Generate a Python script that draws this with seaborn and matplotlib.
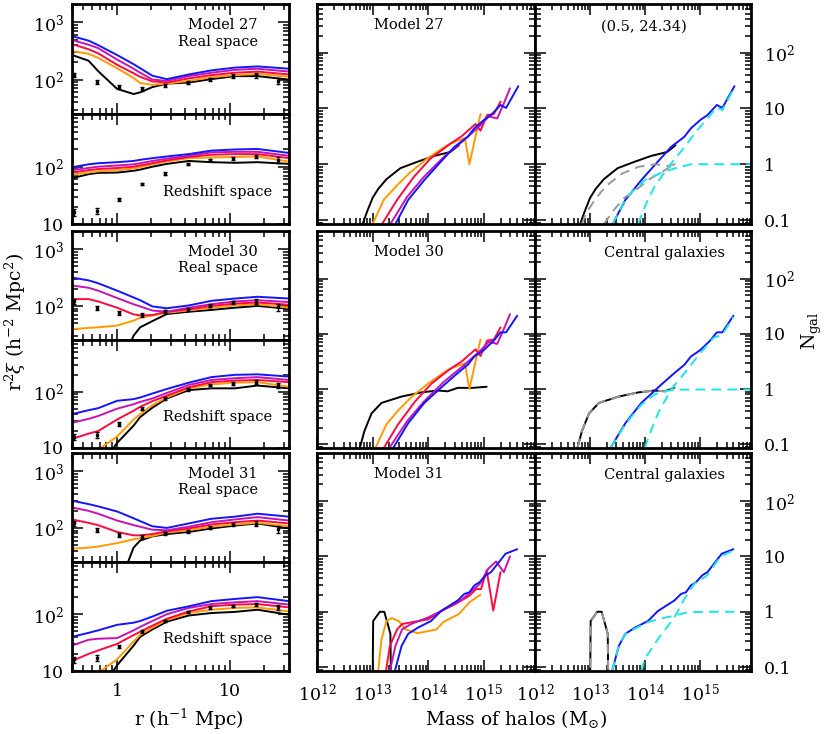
import numpy as np
import pandas as pd
import matplotlib
matplotlib.use("Agg")
import matplotlib.pyplot as plt
import seaborn as sns
from matplotlib.ticker import FixedLocator, FuncFormatter, NullFormatter

sns.set_style("ticks", {"axes.edgecolor": "black", "xtick.color": "black",
                        "ytick.color": "black", "text.color": "black"})
plt.rcParams["font.family"] = ["DejaVu Serif"]
plt.rcParams["mathtext.fontset"] = "dejavuserif"

# ---- left column: r^2 xi(r) -------------------------------------------
r_grid = [0.4, 0.56, 0.68, 1.0, 1.4, 1.6, 2.05, 2.75, 4.3, 6.8, 11, 17.4, 33]
nan = np.nan

xi27_real = {
    "black":   [269, 214, 141, 69, 56, 60, 74, 85, 89, 102, 115, 115, 100],
    "orange":  [316, 282, 240, 158, 107, 87, 81, 85, 95, 110, 120, 126, 112],
    "red":     [417, 339, 288, 182, 129, 112, 93, 89, 105, 120, 132, 138, 123],
    "magenta": [490, 407, 355, 224, 155, 132, 100, 95, 115, 132, 148, 155, 138],
    "blue":    [575, 479, 400, 269, 186, 158, 117, 102, 123, 145, 162, 170, 155],
}
xi27_red = {
    "black":   [63, 74, 78, 79, 85, 89, 100, 112, 126, 120, 117, 120, 112],
    "orange":  [72, 79, 83, 87, 93, 98, 110, 123, 141, 145, 148, 151, 123],
    "red":     [79, 87, 91, 95, 100, 105, 115, 129, 148, 162, 166, 166, 141],
    "magenta": [87, 95, 100, 105, 110, 115, 126, 138, 155, 178, 182, 182, 155],
    "blue":    [98, 110, 115, 120, 126, 132, 141, 151, 166, 191, 200, 204, 174],
}
xi30_real = {
    "black":   [nan, nan, nan, 6, 30, 42, 54, 72, 79, 85, 93, 100, 89],
    "orange":  [39, 41, 42, 45, 55, 62, 68, 76, 83, 93, 102, 107, 93],
    "red":     [132, 132, 120, 93, 71, 68, 69, 79, 87, 100, 110, 115, 105],
    "magenta": [229, 209, 186, 138, 107, 98, 83, 79, 93, 107, 120, 126, 117],
    "blue":    [316, 282, 251, 186, 141, 126, 98, 91, 102, 123, 135, 145, 135],
}
xi30_red = {
    "black":   [nan, nan, 4, 12.3, 25, 35.5, 52, 76, 107, 115, 115, 129, 115],
    "orange":  [nan, 6, 9.3, 16, 32, 40, 58, 79, 115, 135, 145, 148, 123],
    "red":     [14.5, 18, 20, 32, 46, 54, 68, 85, 120, 148, 158, 162, 148],
    "magenta": [28, 33, 37, 50, 60, 66, 76, 95, 132, 162, 174, 182, 162],
    "blue":    [40, 47, 51, 69, 74, 79, 93, 112, 145, 182, 200, 204, 186],
}
xi31_real = {
    "black":   [nan, nan, nan, 8, 45, 60, 71, 78, 85, 98, 110, 120, 98],
    "orange":  [43, 45, 47, 54, 63, 66, 72, 83, 91, 105, 115, 123, 107],
    "red":     [141, 123, 112, 85, 74, 74, 78, 87, 98, 115, 126, 135, 120],
    "magenta": [229, 200, 178, 135, 112, 105, 93, 91, 105, 126, 141, 155, 135],
    "blue":    [302, 263, 240, 195, 148, 132, 107, 100, 120, 145, 158, 178, 158],
}
xi31_red = {
    "black":   [nan, nan, 4, 12.6, 28, 40, 54, 74, 95, 105, 110, 120, 98],
    "orange":  [nan, 6, 9.3, 16, 33, 43, 58, 79, 105, 120, 129, 132, 112],
    "red":     [15, 20, 23, 30, 43, 49, 63, 83, 112, 138, 148, 151, 132],
    "magenta": [28, 35.5, 37, 38, 52, 60, 76, 100, 129, 151, 162, 170, 148],
    "blue":    [40, 47, 52, 65, 71, 76, 91, 115, 138, 170, 186, 200, 170],
}

r_obs = [0.42, 0.66, 1.05, 1.67, 2.65, 4.2, 6.65, 10.5, 16.7, 26.5]
xi_real_obs = [121, 91, 74, 69, 80, 88, 101, 115, 119, 95]
xi_real_err = [12, 7, 6, 6, 5, 5, 6, 8, 11, 12]
xi_red_obs = [16, 17, 27, 50, 76, 110, 132, 140, 150, 132]
xi_red_err = [2, 2, 2, 3, 4, 5, 7, 8, 10, 14]

# ---- middle / right columns: N(M), log10 mass ----------------------------
hod27 = {
    "black":   ([12.82, 12.9, 13.0, 13.1, 13.25, 13.5, 13.8, 14.1, 14.4, 14.55],
                [0.085, 0.141, 0.25, 0.36, 0.54, 0.85, 1.1, 1.4, 1.66, 2.19]),
    "orange":  ([13.0, 13.2, 13.44, 13.68, 13.98, 14.34, 14.52, 14.66, 14.74, 14.94],
                [0.085, 0.23, 0.42, 0.72, 1.26, 2.19, 2.63, 2.9, 1.0, 7.9]),
    "red":     ([13.17, 13.44, 13.74, 14.04, 14.4, 14.6, 14.85, 14.94, 15.06, 15.18, 15.3],
                [0.085, 0.23, 0.59, 1.26, 2.34, 3.16, 5.25, 3.98, 7.6, 7.9, 13.2]),
    "magenta": ([13.32, 13.62, 13.92, 14.28, 14.64, 14.94, 15.09, 15.24, 15.36, 15.47],
                [0.085, 0.26, 0.59, 1.35, 2.69, 5.0, 7.2, 6.6, 12.3, 22.9]),
    "blue":    ([13.41, 13.64, 13.93, 14.17, 14.47, 14.71, 14.83, 15.0, 15.13, 15.3, 15.4, 15.62],
                [0.085, 0.23, 0.52, 0.96, 2.04, 3.1, 4.4, 6.2, 7.6, 11.5, 10.2, 25]),
}
hod30 = {
    "black":   ([12.77, 12.85, 12.98, 13.16, 13.52, 13.88, 14.17, 14.35, 14.53, 14.8, 15.05],
                [0.085, 0.17, 0.36, 0.56, 0.73, 0.87, 0.94, 0.91, 1.05, 1.05, 1.1]),
    "orange":  ([13.05, 13.25, 13.47, 13.7, 14.0, 14.34, 14.52, 14.66, 14.74, 14.94],
                [0.085, 0.23, 0.42, 0.72, 1.26, 2.19, 2.63, 2.9, 1.0, 7.9]),
    "red":     ([13.2, 13.46, 13.76, 14.06, 14.4, 14.6, 14.85, 14.94, 15.06, 15.18, 15.3],
                [0.085, 0.23, 0.59, 1.26, 2.34, 3.16, 5.25, 3.98, 7.6, 7.9, 13.2]),
    "magenta": ([13.3, 13.62, 13.92, 14.28, 14.64, 14.94, 15.09, 15.24, 15.36, 15.47],
                [0.085, 0.26, 0.59, 1.35, 2.69, 5.0, 7.2, 6.6, 12.3, 22.9]),
    "blue":    ([13.37, 13.64, 13.93, 14.29, 14.53, 14.71, 14.83, 15.0, 15.18, 15.3, 15.4, 15.6],
                [0.085, 0.24, 0.56, 1.2, 1.95, 2.75, 3.9, 5.1, 7.6, 10.7, 10.7, 21.4]),
}
hod31 = {
    "black":   ([13.0, 13.01, 13.13, 13.21, 13.32, 13.33],
                [0.05, 0.68, 1.0, 1.0, 0.4, 0.05]),
    "orange":  ([13.1, 13.16, 13.25, 13.345, 13.47, 13.59, 13.81, 14.15, 14.27, 14.55, 14.74, 14.94],
                [0.085, 0.32, 0.68, 0.77, 0.68, 0.48, 0.41, 0.48, 0.65, 0.91, 1.48, 2.04]),
    "red":     ([13.24, 13.31, 13.44, 13.53, 13.75, 14.0, 14.24, 14.49, 14.74, 14.86, 14.95, 15.05, 15.17, 15.3],
                [0.085, 0.24, 0.48, 0.6, 0.66, 0.73, 1.04, 1.38, 1.95, 2.57, 2.57, 5.6, 1.05, 5.2]),
    "magenta": ([13.31, 13.41, 13.53, 13.69, 14.0, 14.24, 14.62, 14.93, 15.08, 15.22, 15.36, 15.47],
                [0.085, 0.24, 0.48, 0.6, 0.79, 1.04, 1.7, 3.2, 6.0, 8.1, 5.2, 10.0]),
    "blue":    ([13.4, 13.52, 13.64, 13.82, 14.05, 14.23, 14.53, 14.65, 14.74, 14.83, 14.92, 15.04, 15.13, 15.39, 15.6],
                [0.085, 0.24, 0.4, 0.52, 0.68, 1.03, 1.6, 2.1, 2.25, 3.0, 3.4, 4.6, 5.2, 11.2, 13.5]),
}

# black / dashed components drawn in the right column
black_right30 = ([12.77, 12.85, 12.98, 13.16, 13.52, 13.88, 14.17, 14.35, 14.53],
                 [0.085, 0.17, 0.36, 0.56, 0.73, 0.87, 0.94, 0.91, 1.05])
gray_cen27 = ([12.85, 12.92, 13.1, 13.28, 13.58, 13.88, 14.17, 14.41, 14.55],
              [0.085, 0.13, 0.24, 0.4, 0.68, 0.9, 1.0, 0.93, 1.0])
gray_sat27 = ([13.25, 13.45, 13.64, 13.76, 14.05, 14.25, 14.41, 14.5],
              [0.085, 0.16, 0.26, 0.3, 0.52, 0.68, 0.84, 1.0])
cyan_cen27 = ([13.41, 13.6, 13.73, 13.99, 14.29, 14.53, 14.83, 15.2, 15.9],
              [0.085, 0.2, 0.3, 0.52, 0.7, 0.84, 1.0, 1.0, 1.0])
cyan_sat27 = ([13.87, 14.02, 14.17, 14.32, 14.47, 14.71, 14.9, 15.13, 15.3, 15.4, 15.62],
              [0.085, 0.2, 0.4, 0.65, 1.03, 2.0, 3.6, 6.6, 10.5, 9.3, 24])
cyan_cen30 = ([13.37, 13.64, 13.93, 14.17, 14.47, 14.8, 15.9],
              [0.085, 0.23, 0.52, 0.8, 0.96, 0.98, 0.98])
cyan_sat30 = ([13.99, 14.1, 14.23, 14.47, 14.74, 15.0, 15.24, 15.4, 15.6],
              [0.085, 0.17, 0.36, 0.98, 2.1, 4.5, 8.5, 9.7, 20.4])
cyan_cen31 = ([13.4, 13.52, 13.64, 13.82, 14.05, 14.3, 14.53, 14.77, 15.2, 15.62],
              [0.085, 0.24, 0.4, 0.5, 0.65, 0.76, 0.85, 0.98, 1.0, 1.0])
cyan_sat31 = ([13.93, 13.99, 14.23, 14.53, 14.71, 14.89, 15.12, 15.36, 15.6],
              [0.085, 0.14, 0.32, 0.79, 1.7, 3.2, 4.5, 9.8, 12.9])

model_names = ["Model 27", "Model 30", "Model 31"]
right_titles = ["(0.5, 24.34)", "Central galaxies", "Central galaxies"]

COLORS = {"black": "black", "orange": "#ff9a00", "red": "#ff0a40",
          "magenta": "#c414b4", "blue": "#1414ff"}
GRAY = "#9a9a9a"
CYAN = "#1ee6e6"
DASH = (0, (5, 3.2))

W, H = 830, 734


def box(x0, y0, x1, y1):
    return [x0 / W, 1 - y1 / H, (x1 - x0) / W, (y1 - y0) / H]


def draw(ax, x, y, color, dashed=False, lw=1.4):
    d = pd.DataFrame({"x": x, "y": y}).dropna()
    kw = {"linestyle": DASH} if dashed else {}
    sns.lineplot(data=d, x="x", y="y", ax=ax, color=color, lw=lw,
                 sort=False, estimator=None, **kw)
    ax.set_xlabel("")
    ax.set_ylabel("")


def style(ax):
    ax.tick_params(which="both", direction="in", top=True, right=True,
                   width=1.1, labelsize=12.5, colors="black")
    ax.tick_params(which="major", length=8)
    ax.tick_params(which="minor", length=4)
    for s in ax.spines.values():
        s.set_linewidth(2)
        s.set_color("black")


def xi_fmt(v, pos):
    return {10: "10", 100: "$10^2$", 1000: "$10^3$"}.get(round(v), "")


def n_fmt(v, pos):
    return {0.1: "0.1", 1: "1", 10: "10", 100: "$10^2$"}.get(round(v, 1), "")


def m_fmt(v, pos):
    return "$10^{%d}$" % round(np.log10(v))


def lg(vals):
    return [10.0 ** v for v in vals]


fig = plt.figure(figsize=(W / 100, H / 100), dpi=100)

row_top = [4, 231, 453]
row_mid = [114, 340, 562]
row_bot = [224, 448, 671]
xi_sets = [(xi27_real, xi27_red), (xi30_real, xi30_red), (xi31_real, xi31_red)]
hod_sets = [hod27, hod30, hod31]
black_right = [hod27["black"], black_right30, hod31["black"]]
dash_sets = [
    [(gray_cen27, GRAY), (gray_sat27, GRAY), (cyan_cen27, CYAN), (cyan_sat27, CYAN)],
    [(black_right30, GRAY), (cyan_cen30, CYAN), (cyan_sat30, CYAN)],
    [(hod31["black"], GRAY), (cyan_cen31, CYAN), (cyan_sat31, CYAN)],
]
y_minor = [k * 10.0 ** e for e in range(0, 4) for k in range(2, 10)]
r_minor = [0.4, 0.5, 0.6, 0.7, 0.8, 0.9] + [k for k in range(2, 10)] + [20, 30]
n_minor = [k * 10.0 ** e for e in range(-2, 3) for k in range(2, 10)]
m_minor = [k * 10.0 ** e for e in range(12, 16) for k in range(2, 10)]

for i in range(3):
    real, red = xi_sets[i]
    ax_r = fig.add_axes(box(72, row_top[i], 289, row_mid[i]))
    ax_z = fig.add_axes(box(72, row_mid[i], 289, row_bot[i]))
    for ax, curves, obs, err, lim in [
        (ax_r, real, xi_real_obs, xi_real_err, (25.1, 2090)),
        (ax_z, red, xi_red_obs, xi_red_err, (10, 832)),
    ]:
        for c in ["black", "orange", "red", "magenta", "blue"]:
            draw(ax, r_grid, curves[c], COLORS[c])
        ax.errorbar(r_obs, obs, yerr=err, fmt="s", ms=2.0, color="black",
                    elinewidth=1.0, capsize=1.6, capthick=1.0, zorder=5)
        ax.set_xscale("log")
        ax.set_yscale("log")
        ax.set_xlim(0.4, 33)
        ax.set_ylim(*lim)
        style(ax)
        ax.xaxis.set_major_locator(FixedLocator([1, 10]))
        ax.xaxis.set_minor_locator(FixedLocator(r_minor))
        ax.xaxis.set_minor_formatter(NullFormatter())
        ax.yaxis.set_major_locator(FixedLocator([10, 100, 1000]))
        ax.yaxis.set_minor_locator(FixedLocator(y_minor))
        ax.yaxis.set_major_formatter(FuncFormatter(xi_fmt))
        ax.yaxis.set_minor_formatter(NullFormatter())
        ax.tick_params(axis="y", pad=6)
        ax.tick_params(axis="x", pad=9)
        ax.xaxis.set_major_formatter(FuncFormatter(lambda v, p: "%d" % v))
        if not (i == 2 and ax is ax_z):
            ax.tick_params(labelbottom=False)
    ax_r.text(0.855, 0.735, model_names[i] + "\nReal space", transform=ax_r.transAxes,
              ha="right", va="center", fontsize=10.5, linespacing=1.25)
    ax_z.text(0.92, 0.29, "Redshift space", transform=ax_z.transAxes,
              ha="right", va="center", fontsize=10.5)

    # middle: all models' N(M); right: black + blue with their components
    ax_m = fig.add_axes(box(317, row_top[i], 535, row_bot[i]))
    ax_h = fig.add_axes(box(535, row_top[i], 751, row_bot[i]))
    hod = hod_sets[i]
    for c in ["black", "orange", "red", "magenta", "blue"]:
        m, n = hod[c]
        draw(ax_m, lg(m), n, COLORS[c])
    m, n = black_right[i]
    draw(ax_h, lg(m), n, "black")
    m, n = hod["blue"]
    draw(ax_h, lg(m), n, COLORS["blue"])
    for (m, n), col in dash_sets[i]:
        draw(ax_h, lg(m), n, col, dashed=True)
    for ax in (ax_m, ax_h):
        ax.set_xscale("log")
        ax.set_yscale("log")
        ax.set_xlim(1e12, 10 ** 15.92)
        ax.set_ylim(0.085, 740)
        style(ax)
        ax.xaxis.set_major_locator(FixedLocator([1e12, 1e13, 1e14, 1e15]))
        ax.xaxis.set_minor_locator(FixedLocator(m_minor))
        ax.xaxis.set_major_formatter(FuncFormatter(m_fmt))
        ax.xaxis.set_minor_formatter(NullFormatter())
        ax.yaxis.set_major_locator(FixedLocator([0.1, 1, 10, 100]))
        ax.yaxis.set_minor_locator(FixedLocator(n_minor))
        ax.yaxis.set_minor_formatter(NullFormatter())
        ax.tick_params(axis="x", pad=9)
        if i != 2:
            ax.tick_params(labelbottom=False)
    ax_m.tick_params(labelleft=False)
    ax_h.tick_params(labelleft=False, labelright=True, pad=9)
    ax_h.yaxis.set_major_formatter(FuncFormatter(n_fmt))
    ax_m.text(0.422, 0.903, model_names[i], transform=ax_m.transAxes,
              ha="center", va="center", fontsize=10.5)
    ax_h.text(0.505 if i == 0 else 0.6, 0.898, right_titles[i], transform=ax_h.transAxes,
              ha="center", va="center", fontsize=10.5)

fig.text(189 / W, 1 - 719 / H, "r (h$^{-1}$ Mpc)", ha="center", va="center", fontsize=13.5)
fig.text(516 / W, 1 - 719 / H, r"Mass of halos ($\mathrm{M}_{\odot}$)",
         ha="center", va="center", fontsize=13.5)
fig.text(15 / W, 1 - 322 / H, r"r$^2\xi$ (h$^{-2}$ Mpc$^2$)", rotation=90,
         ha="center", va="center", fontsize=13.5)
fig.text(812 / W, 1 - 331 / H, r"N$_{\mathrm{gal}}$", rotation=90,
         ha="center", va="center", fontsize=13.5)

fig.savefig("out.png", dpi=100)
